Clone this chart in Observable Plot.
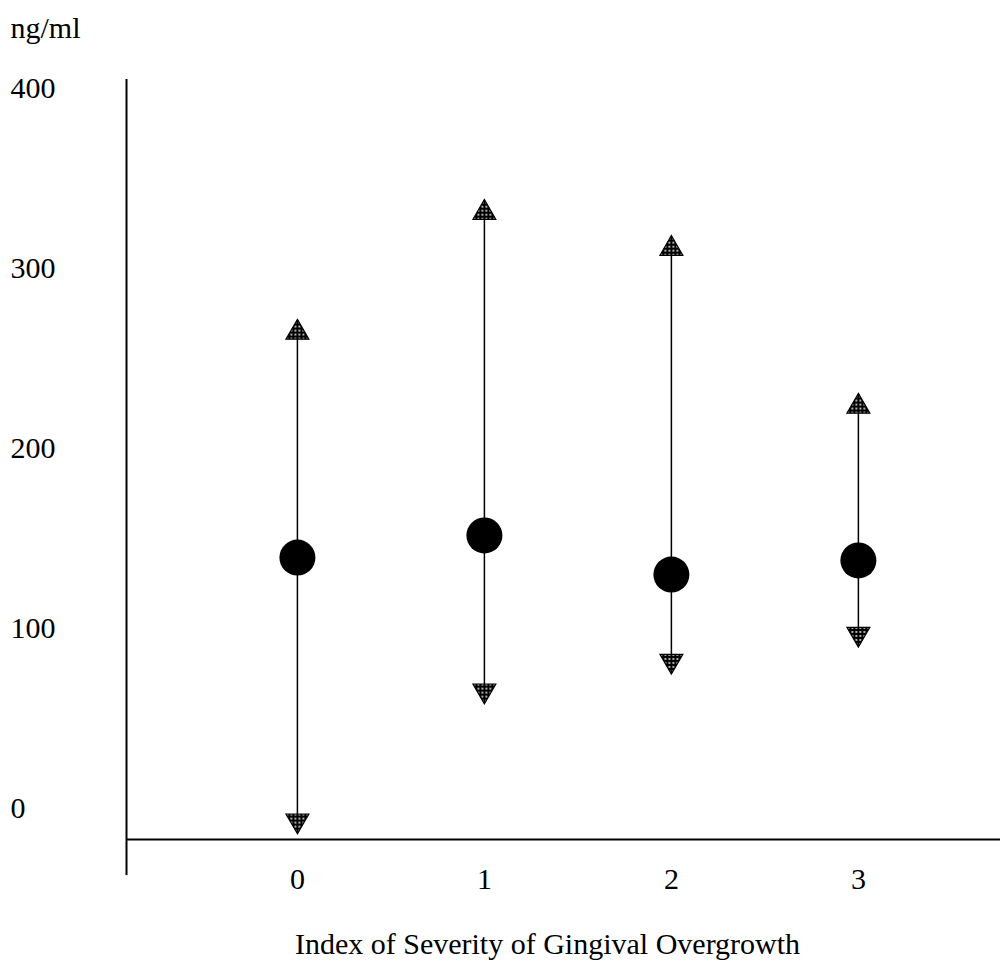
<!DOCTYPE html>
<html>
<head>
<meta charset="utf-8">
<script src="https://cdn.jsdelivr.net/npm/d3@7"></script>
<script src="https://cdn.jsdelivr.net/npm/@observablehq/plot@0.6"></script>
<style>
  html, body { margin: 0; padding: 0; background: #fff; }
</style>
</head>
<body>
<div id="chart"></div>
<script>
const categories = [0, 1, 2, 3];
const means = [139.4, 151.7, 130, 137.8];
const upper = [264.4, 331, 311, 223.3];
const lower = [-6.7, 65.5, 82, 97];
const yTicks = [0, 100, 200, 300, 400];
const yUnit = "ng/ml";
const xTitle = "Index of Severity of Gingival Overgrowth";

const xDomain = [-0.914, 3.76];
const yDomain = [-37.2, 405];
const xAxisAt = -17.2;

const data = categories.map((c, i) => ({cat: c, mean: means[i], hi: upper[i], lo: lower[i]}));

const font = "'Liberation Serif', 'Times New Roman', serif";

const chart = Plot.plot({
  width: 1002,
  height: 963,
  marginLeft: 126,
  marginRight: 2,
  marginTop: 79,
  marginBottom: 88,
  style: {fontFamily: font, fontSize: "30px", color: "#000", background: "#fff"},
  x: {domain: xDomain, label: null},
  y: {domain: yDomain, label: null},
  marks: [
    Plot.axisY(yTicks, {tickSize: 0, tickPadding: 116, textAnchor: "start", fontSize: 30, label: null}),
    Plot.axisX(categories, {tickSize: 0, tickPadding: -8, fontSize: 30, tickFormat: d3.format("d"), label: null}),
    Plot.text([xTitle], {frameAnchor: "bottom", dx: -16, dy: 69, fontSize: 30, lineAnchor: "middle"}),
    Plot.text([yUnit], {frameAnchor: "top-left", dx: -116, dy: -51, textAnchor: "start", lineAnchor: "middle", fontSize: 30}),
    Plot.ruleX([xDomain[0]], {y1: yDomain[0], y2: yDomain[1], stroke: "#000", strokeWidth: 2}),
    Plot.ruleY([xAxisAt], {x1: xDomain[0], x2: xDomain[1], stroke: "#000", strokeWidth: 2}),
    Plot.ruleX(data, {x: "cat", y1: "lo", y2: "hi", stroke: "#000", strokeWidth: 1.5}),
    Plot.dot(data, {x: "cat", y: "hi", symbol: "triangle", r: 8.5, fill: "url(#dotpat)", stroke: "#000", strokeWidth: 1.2}),
    Plot.dot(data, {x: "cat", y: "lo", symbol: "triangle", rotate: 180, r: 8.5, fill: "url(#dotpat)", stroke: "#000", strokeWidth: 1.2}),
    Plot.dot(data, {x: "cat", y: "mean", r: 18, fill: "#000", stroke: "none"})
  ]
});

const ns = "http://www.w3.org/2000/svg";
const svg = chart.tagName.toLowerCase() === "svg" ? chart : chart.querySelector("svg");
const defs = document.createElementNS(ns, "defs");
const pat = document.createElementNS(ns, "pattern");
pat.setAttribute("id", "dotpat");
pat.setAttribute("patternUnits", "userSpaceOnUse");
pat.setAttribute("width", "4");
pat.setAttribute("height", "4");
const bg = document.createElementNS(ns, "rect");
bg.setAttribute("width", "4"); bg.setAttribute("height", "4"); bg.setAttribute("fill", "#000");
const c = document.createElementNS(ns, "circle");
c.setAttribute("cx", "2"); c.setAttribute("cy", "2"); c.setAttribute("r", "0.9"); c.setAttribute("fill", "#fff");
pat.appendChild(bg); pat.appendChild(c);
defs.appendChild(pat);
svg.insertBefore(defs, svg.firstChild);

document.getElementById("chart").appendChild(chart);
</script>
</body>
</html>
